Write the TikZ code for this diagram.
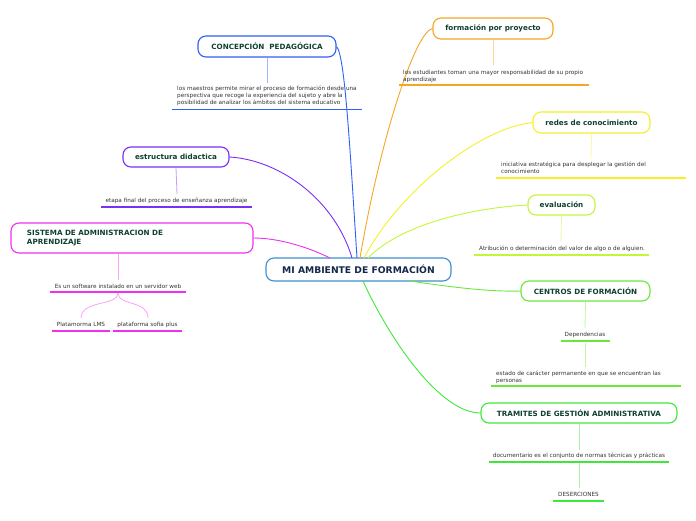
\documentclass[tikz,border=0pt]{standalone}
\usepackage{fontspec}
\setmainfont{DejaVu Sans}
\definecolor{tgreen}{HTML}{0F4030}
\definecolor{tnavy}{HTML}{14284A}
\definecolor{txt}{HTML}{333333}
\definecolor{cmain}{HTML}{3D8FD0}
\definecolor{cblue}{HTML}{2F5FF5}
\definecolor{corange}{HTML}{F5A623}
\definecolor{cyellow}{HTML}{F8EE2A}
\definecolor{clime}{HTML}{C4F53A}
\definecolor{cgreenA}{HTML}{6AE83A}
\definecolor{cgreenB}{HTML}{3EE83A}
\definecolor{cpurple}{HTML}{7A2FF5}
\definecolor{cmagenta}{HTML}{F030F0}
\begin{document}
\begin{tikzpicture}[x=1pt,y=-1pt,
  title/.style={draw=#1, line width=1.1pt, rounded corners=8pt, fill=white,
    font=\fontsize{7.2}{8.6}\selectfont\bfseries, text=tgreen, minimum height=21pt, inner sep=0pt},
  leaf/.style={font=\fontsize{5.7}{7}\selectfont, text=txt, inner sep=0pt, align=left},
  ul/.style={draw=#1, line width=1.3pt},
  stem/.style={draw=#1!45, line width=0.8pt},
  conn/.style={draw=#1, line width=0.9pt}]
\useasboundingbox (0,0) rectangle (696,520);

% central
\node[draw=cmain, line width=1.1pt, rounded corners=8pt, fill=white, minimum width=185pt, minimum height=23pt,
  inner sep=0pt, font=\fontsize{9.2}{10}\selectfont\bfseries, text=tnavy] (mc) at (358.5,269.5) {MI AMBIENTE DE FORMACIÓN};

% main topics
\node[title=cblue, minimum width=138pt] (cp) at (267,46.5) {CONCEPCIÓN\ \ PEDAGÓGICA};
\node[title=corange, minimum width=120pt] (fp) at (493,28.5) {formación por proyecto};
\node[title=cyellow, minimum width=117pt] (rc) at (591.5,122.5) {redes de conocimiento};
\node[title=clime, minimum width=67pt, minimum height=20pt] (ev) at (561.5,205) {evaluación};
\node[title=cgreenA, minimum width=129pt, minimum height=20pt] (cf) at (585.5,291) {CENTROS DE FORMACIÓN};
\node[title=cgreenB, minimum width=196pt, minimum height=20pt] (tg) at (579,413) {TRAMITES DE GESTIÓN ADMINISTRATIVA};
\node[title=cpurple, minimum width=106pt, minimum height=20pt] (ed) at (176,157) {estructura didactica};
\node[title=cmagenta, minimum width=242pt, minimum height=30pt, align=left, text width=210pt] (sa) at (132,238)
  {SISTEMA DE ADMINISTRACION DE\\APRENDIZAJE};

% connector end points on the central node
\coordinate (kcp) at (357,258);
\coordinate (kfp) at (360,258);
\coordinate (krc) at (364,258);
\coordinate (kev) at (368,258);
\coordinate (ked) at (352,258);
\coordinate (ksa) at (330,258);
\coordinate (kcf) at (410,281);
\coordinate (ktg) at (363,281);

\draw[conn=cblue] (cp.east) .. controls (345,55) and (350,150) .. (kcp);
\draw[conn=corange] (fp.west) .. controls (415,32) and (380,140) .. (kfp);
\draw[conn=cyellow] (rc.west) .. controls (480,128) and (400,190) .. (krc);
\draw[conn=clime] (ev.west) .. controls (470,208) and (400,225) .. (kev);
\draw[conn=cpurple] (ed.east) .. controls (280,160) and (335,200) .. (ked);
\draw[conn=cmagenta] (sa.east) .. controls (280,238) and (310,248) .. (ksa);
\draw[conn=cgreenA] (kcf) .. controls (450,287) and (490,292) .. (cf.west);
\draw[conn=cgreenB] (ktg) .. controls (390,340) and (440,413) .. (tg.west);

% descriptions
\node[leaf, anchor=west] (dcp) at (177,96) {los maestros permite mirar el proceso de formación desde una\\perspectiva que recoge la experiencia del sujeto y abre la\\posibilidad de analizar los ámbitos del sistema educativo};
\node[leaf, anchor=west] (dfp) at (403,76) {los estudiantes toman una mayor responsabilidad de su propio\\aprendizaje};
\node[leaf, anchor=west] (drc) at (501,168) {iniciativa estratégica para desplegar la gestión del\\conocimiento};
\node[leaf, anchor=west] (dev) at (479,248.5) {Atribución o determinación del valor de algo o de alguien.};
\node[leaf] (ded) at (176.5,201) {etapa final del proceso de enseñanza aprendizaje};
\node[leaf] (dsa) at (118,286) {Es un software instalado en un servidor web};
\node[leaf] (dl1) at (81,324.5) {Platamorma LMS};
\node[leaf] (dl2) at (147.5,324.5) {plataforma sofia plus};
\node[leaf] (dep) at (585,335) {Dependencias};
\node[leaf, anchor=west] (dcf) at (496,377) {estado de carácter permanente en que se encuentran las\\personas};
\node[leaf] (dtg) at (579,456) {documentario es el conjunto de normas técnicas y prácticas};
\node[leaf] (des) at (578.5,494.5) {DESERCIONES};

% underlines
\draw[ul=cblue] (172,109.5) -- (362,109.5);
\draw[ul=corange] (399,85) -- (589,85);
\draw[ul=cyellow] (496,178) -- (686,178);
\draw[ul=clime] (474,255) -- (649,255);
\draw[ul=cpurple] (101,207) -- (252,207);
\draw[ul=cmagenta] (50,292) -- (186,292);
\draw[ul=cmagenta] (52,331) -- (110,331);
\draw[ul=cmagenta] (113,331) -- (182,331);
\draw[ul=cgreenA] (561,341) -- (610,341);
\draw[ul=cgreenA] (491,386) -- (681,386);
\draw[ul=cgreenB] (489,462) -- (669,462);
\draw[ul=cgreenB] (553,501) -- (604,501);

% stems
\coordinate (scp) at (267,83);
\coordinate (sfp) at (493,65);
\coordinate (src) at (591,158);
\coordinate (sev) at (561,242);
\coordinate (sed) at (177,194);
\coordinate (ssa) at (118,280);
\coordinate (scf) at (585,328);
\coordinate (sdepA) at (585,343);
\coordinate (sdepB) at (585,367);
\coordinate (stg) at (579,450);
\coordinate (sdtgA) at (579,463);
\coordinate (sdtgB) at (579,488);
\coordinate (bsa) at (118,293);
\coordinate (bl1) at (81,318);
\coordinate (bl2) at (148,318);

\draw[stem=cblue] (cp.south) -- (scp);
\draw[stem=corange] (fp.south) -- (sfp);
\draw[stem=cyellow] (rc.south) -- (src);
\draw[stem=clime] (ev.south) -- (sev);
\draw[stem=cpurple] (ed.south) -- (sed);
\draw[stem=cmagenta] (sa.south -| ssa) -- (ssa);
\draw[stem=cgreenA] (cf.south) -- (scf);
\draw[stem=cgreenA] (sdepA) -- (sdepB);
\draw[stem=cgreenB] (tg.south) -- (stg);
\draw[stem=cgreenB] (sdtgA) -- (sdtgB);
\draw[stem=cmagenta] (bsa) .. controls (118,306) and (81,300) .. (bl1);
\draw[stem=cmagenta] (bsa) .. controls (118,306) and (148,300) .. (bl2);
\end{tikzpicture}
\end{document}
